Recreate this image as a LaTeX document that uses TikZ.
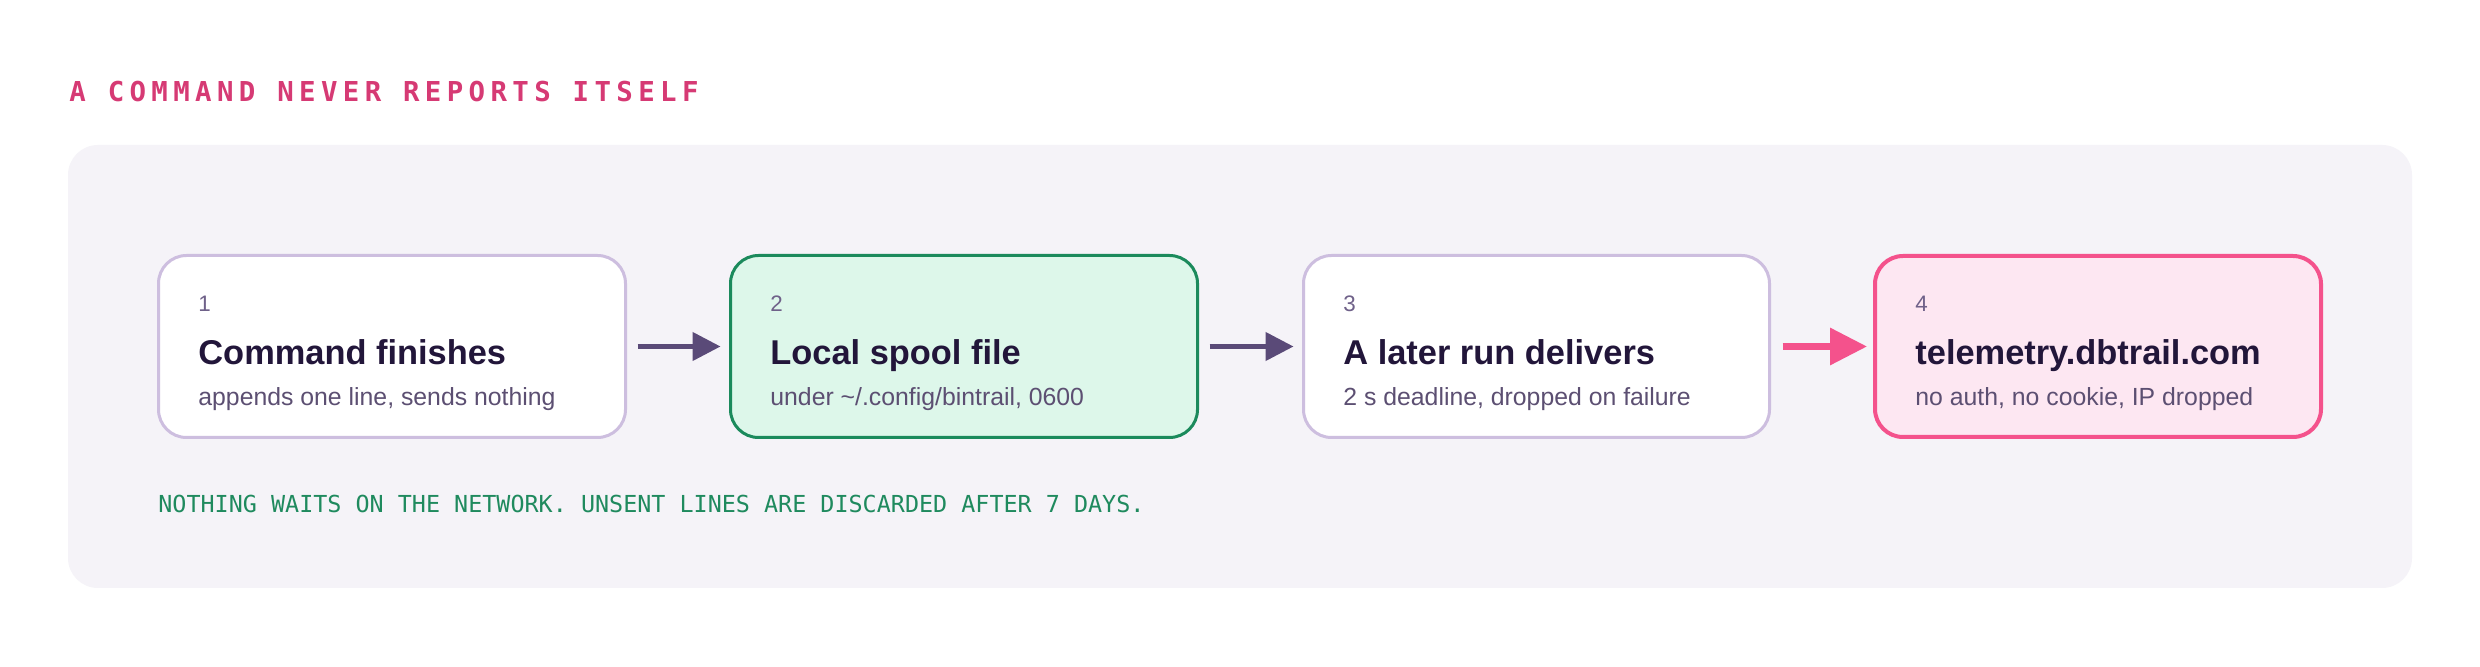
\documentclass[tikz,border=0pt]{standalone}
\usepackage{fontspec}
\setmainfont{Liberation Sans}
\newfontfamily\hdrfont{DejaVu Sans Mono}[LetterSpace=19.6]
\newfontfamily\notefont{DejaVu Sans Mono}
\usetikzlibrary{arrows.meta}
\definecolor{panelbg}{HTML}{F5F3F8}
\definecolor{lavborder}{HTML}{CDBEDF}
\definecolor{mintfill}{HTML}{DDF7EA}
\definecolor{greenline}{HTML}{1B8A5C}
\definecolor{pinkfill}{HTML}{FDE7F2}
\definecolor{pinkline}{HTML}{F4528C}
\definecolor{darkarrow}{HTML}{5A4A78}
\definecolor{titlecol}{HTML}{22163A}
\definecolor{subcol}{HTML}{5C4F72}
\definecolor{numcol}{HTML}{6F6189}
\definecolor{hdrcol}{HTML}{D63A74}
\definecolor{notecol}{HTML}{1F8A5E}
\tikzset{
  card/.style={draw, line width=1.5pt, rounded corners=14pt, inner sep=0pt, outer sep=0pt,
    minimum height=91pt},
  plaincard/.style={card, draw=lavborder, fill=white},
  mintcard/.style={card, draw=greenline, fill=mintfill},
  pinkcard/.style={card, draw=pinkline, fill=pinkfill, line width=2pt, minimum height=90.5pt},
  numtext/.style={anchor=base west, inner sep=0pt, text=numcol, font=\fontsize{11.2pt}{13pt}\selectfont},
  titletext/.style={anchor=base west, inner sep=0pt, text=titlecol, font=\fontsize{17.2pt}{20pt}\selectfont\bfseries},
  subtext/.style={anchor=base west, inner sep=0pt, text=subcol, font=\fontsize{12.4pt}{15pt}\selectfont},
  flow/.style={draw=darkarrow, line width=2.25pt, -{Triangle[length=14pt,width=14pt]}},
  hotflow/.style={draw=pinkline, line width=3.25pt, -{Triangle[length=18.5pt,width=18pt]}},
}
\begin{document}
\begin{tikzpicture}[x=0.5pt,y=-0.5pt]
\useasboundingbox (0,0) rectangle (2480,667);
\fill[white] (0,0) rectangle (2480,667);
% header
\node[anchor=base west, inner sep=0pt, text=hdrcol, font=\hdrfont\bfseries\fontsize{13.7pt}{16pt}\selectfont] (hdr) at (69,102) {A COMMAND NEVER REPORTS ITSELF};
% panel
\node[fill=panelbg, rounded corners=15pt, inner sep=0pt, outer sep=0pt, minimum width=1172pt, minimum height=221.5pt] (panel) at (1240,366.5) {};
% cards
\node[plaincard, minimum width=233.5pt] (b1) at (392,346.5) {};
\node[mintcard, minimum width=233.5pt] (b2) at (964,346.5) {};
\node[plaincard, minimum width=233pt] (b3) at (1536.5,346.5) {};
\node[pinkcard, minimum width=223pt] (b4) at (2098,346.5) {};
% card texts
\node[numtext] (n1) at (198,312) {1};
\node[titletext] (t1) at (198,365) {Command finishes};
\node[subtext] (s1) at (198,406) {appends one line, sends nothing};
\node[numtext] (n2) at (770,312) {2};
\node[titletext] (t2) at (770,365) {Local spool file};
\node[subtext] (s2) at (770,406) {under \char`\~/.config/bintrail, 0600};
\node[numtext] (n3) at (1343,312) {3};
\node[titletext] (t3) at (1343,365) {A later run delivers};
\node[subtext] (s3) at (1343,406) {2 s deadline, dropped on failure};
\node[numtext] (n4) at (1915,312) {4};
\node[titletext] (t4) at (1915,365) {telemetry.dbtrail.com};
\node[subtext] (s4) at (1915,406) {no auth, no cookie, IP dropped};
% arrows
\draw[flow, shorten <=6pt, shorten >=5pt] (b1.east) -- (b2.west);
\draw[flow, shorten <=6pt, shorten >=5pt] (b2.east) -- (b3.west);
\draw[hotflow, shorten <=6.5pt, shorten >=4pt] (b3.east) -- (b4.west);
% note
\node[anchor=base west, inner sep=0pt, text=notecol, font=\notefont\fontsize{11.7pt}{14pt}\selectfont] (note) at (158,513) {NOTHING WAITS ON THE NETWORK. UNSENT LINES ARE DISCARDED AFTER 7 DAYS.};
\end{tikzpicture}
\end{document}
